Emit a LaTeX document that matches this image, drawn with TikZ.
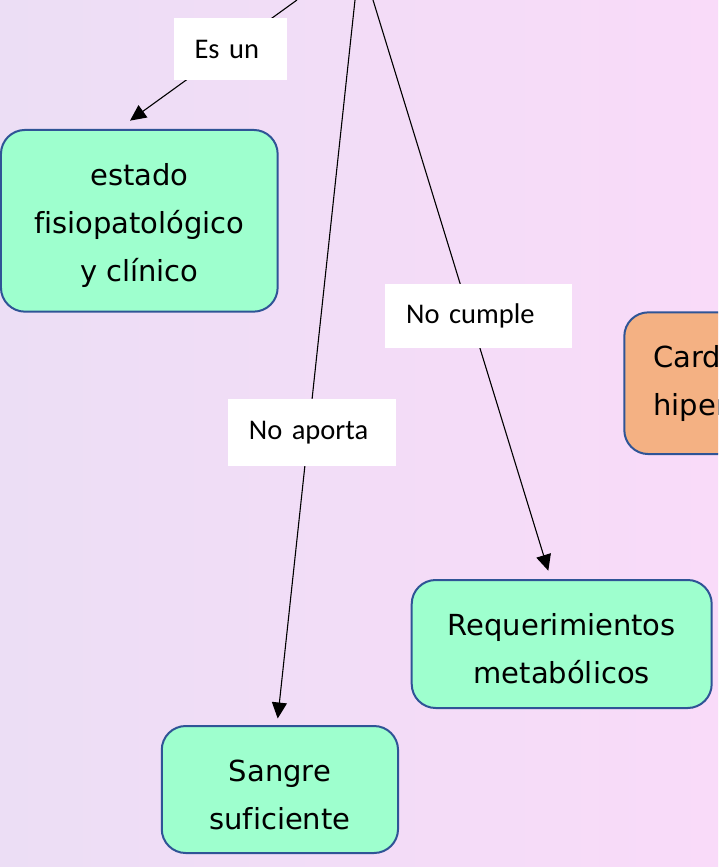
\documentclass[tikz,border=0pt]{standalone}
\usepackage{fontspec}
\setmainfont{DejaVu Sans}[Ligatures=CommonOff]
\newfontfamily\labelfont{Carlito}
\usetikzlibrary{arrows.meta}
\definecolor{bgleft}{RGB}{236,222,245}
\definecolor{bgright}{RGB}{249,219,249}
\definecolor{mint}{RGB}{158,255,206}
\definecolor{edgeblue}{RGB}{47,84,150}
\definecolor{peach}{RGB}{244,177,131}
\newcommand\tallstrut{\rule{0pt}{32pt}}
\begin{document}
\begin{tikzpicture}[x=1pt,y=-1pt,
  concept/.style={draw=edgeblue, line width=2pt, fill=mint, rounded corners=24pt,
    align=center, font=\fontsize{29}{48}\selectfont, inner sep=0pt},
  linklabel/.style={fill=white, font=\labelfont\fontsize{28.5}{34}\selectfont,
    inner xsep=21pt, inner ysep=0pt, align=left, anchor=west},
  link/.style={line width=1.1pt, -{Triangle[length=16pt,width=15pt]}}]
\path[use as bounding box, left color=bgleft, right color=bgright] (0,0) rectangle (718,867);
\clip (0,0) rectangle (718,867);
% concept nodes
\node[concept, minimum width=276.7pt, minimum height=181.7pt] (estado) at (139.3,220.8)
  {\tallstrut estado\\fisiopatológico\\y clínico};
\node[concept, minimum width=300pt, minimum height=128pt] (req) at (561.7,644)
  {\tallstrut Requerimientos\\metabólicos};
\node[concept, minimum width=236.3pt, minimum height=127pt] (sangre) at (279.9,789.5)
  {\tallstrut Sangre\\suficiente};
\node[concept, fill=peach, anchor=west, align=left, text width=180pt, inner xsep=29pt,
  minimum height=141.7pt] (cardio) at (623.3,383.2) {Card\\hiper};
% free ends of the connectors (their source lies above the picture)
\coordinate (src1) at (297,0);
\coordinate (src2) at (355,0);
\coordinate (src3) at (373,0);
% connectors
\draw[link] (src1) -- ([xshift=-9.3pt,yshift=8.3pt]estado.north);
\draw[link] (src2) -- ([xshift=-2.2pt,yshift=6.5pt]sangre.north);
\draw[link] (src3) -- ([xshift=-13.4pt,yshift=8.3pt]req.north);
% link labels
\node[linklabel, text width=71.4pt, minimum height=61.7pt] (l1) at (173.3,49.2) {Es un};
\node[linklabel, text width=126.3pt, minimum height=67pt] (l2) at (227.7,432.5) {No aporta};
\node[linklabel, text width=144.7pt, minimum height=64.3pt] (l3) at (385,316.2) {No cumple};
\end{tikzpicture}
\end{document}
